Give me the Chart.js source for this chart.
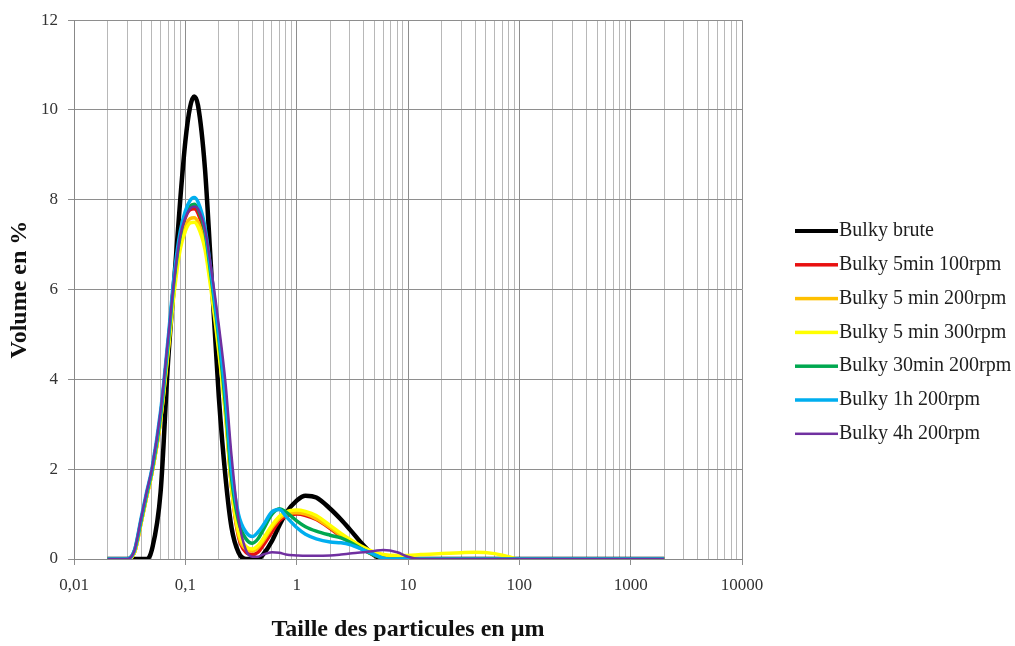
<!DOCTYPE html>
<html>
<head>
<meta charset="utf-8">
<script src="https://cdn.jsdelivr.net/npm/chart.js@4.4.0/dist/chart.umd.min.js"></script>
<style>
html, body { margin: 0; padding: 0; background: #fff; }
#wrap { width: 1015px; height: 646px; }
</style>
</head>
<body>
<div id="wrap"><canvas id="psdChart" width="1015" height="646"></canvas></div>
<script>
// particle sizes (µm)
const sizes = [0.02, 0.025, 0.03, 0.035, 0.04, 0.045, 0.05, 0.06, 0.07, 0.08, 0.09, 0.1, 0.11, 0.12, 0.13, 0.15, 0.17, 0.2, 0.23, 0.26,
    0.3, 0.35, 0.4, 0.45, 0.5, 0.6, 0.7, 0.8, 1, 1.2, 1.5, 2, 2.5, 3, 4, 5, 6, 8, 10, 13,
    20, 30, 40, 60, 80, 100, 200, 500, 1000, 2000];

// volume % per series
const bulkyBrute = [0, 0, 0, 0, 0, 0, 0.2, 1.5, 4.4, 6.3, 8.0, 9.3, 10.05, 10.3, 10.1, 8.7, 6.5, 3.6, 1.8, 0.7,
    0.15, 0, 0, 0, 0.1, 0.4, 0.75, 1.02, 1.3, 1.41, 1.37, 1.12, 0.88, 0.66, 0.3, 0.08, 0, 0, 0, 0,
    0, 0, 0, 0, 0, 0, 0, 0, 0, 0];
const bulky5min100 = [0, 0, 0, 0.15, 0.8, 1.4, 1.9, 3.1, 4.7, 6.2, 7.15, 7.6, 7.78, 7.8, 7.7, 7.2, 6.2, 4.8, 3.3, 1.6,
    0.5, 0.15, 0.1, 0.15, 0.3, 0.6, 0.85, 0.95, 1.0, 0.97, 0.88, 0.68, 0.5, 0.38, 0.2, 0.08, 0.03, 0.01, 0, 0,
    0, 0, 0, 0, 0, 0, 0, 0, 0, 0];
const bulky5min200 = [0, 0, 0, 0.15, 0.8, 1.4, 1.9, 3.1, 4.65, 6.1, 7.0, 7.4, 7.58, 7.6, 7.5, 7.0, 6.1, 4.7, 3.2, 1.6,
    0.55, 0.22, 0.18, 0.25, 0.4, 0.7, 0.9, 1.0, 1.03, 1.0, 0.9, 0.7, 0.52, 0.4, 0.22, 0.1, 0.05, 0.02, 0, 0,
    0, 0, 0, 0, 0, 0, 0, 0, 0, 0];
const bulky5min300 = [0, 0, 0, 0.15, 0.8, 1.4, 1.9, 3.1, 4.6, 6.0, 6.9, 7.3, 7.48, 7.5, 7.4, 6.9, 6.0, 4.6, 3.2, 1.6,
    0.6, 0.28, 0.22, 0.3, 0.45, 0.75, 0.95, 1.05, 1.09, 1.06, 0.97, 0.75, 0.57, 0.44, 0.26, 0.15, 0.1, 0.08, 0.08, 0.1,
    0.12, 0.14, 0.15, 0.12, 0.05, 0, 0, 0, 0, 0];
const bulky30min200 = [0, 0, 0, 0.2, 0.85, 1.45, 1.95, 3.2, 4.8, 6.3, 7.2, 7.65, 7.85, 7.9, 7.8, 7.3, 6.3, 4.9, 3.4, 1.8,
    0.85, 0.45, 0.35, 0.45, 0.65, 1.0, 1.12, 1.05, 0.85, 0.72, 0.62, 0.53, 0.47, 0.38, 0.2, 0.08, 0.02, 0, 0, 0,
    0, 0, 0, 0, 0, 0, 0, 0, 0, 0];
const bulky1h200 = [0, 0, 0, 0.2, 0.9, 1.5, 2.0, 3.3, 4.9, 6.4, 7.3, 7.75, 7.98, 8.05, 7.95, 7.4, 6.4, 5.0, 3.6, 2.0,
    1.0, 0.6, 0.5, 0.6, 0.75, 1.05, 1.1, 0.95, 0.7, 0.55, 0.45, 0.38, 0.36, 0.32, 0.2, 0.1, 0.02, 0, 0, 0,
    0, 0, 0, 0, 0, 0, 0, 0, 0, 0];
const bulky4h200 = [0, 0, 0, 0.2, 0.9, 1.5, 2.0, 3.3, 4.9, 6.3, 7.2, 7.6, 7.8, 7.85, 7.8, 7.35, 6.5, 5.2, 3.9, 2.3,
    0.9, 0.2, 0.05, 0.05, 0.1, 0.15, 0.14, 0.1, 0.08, 0.07, 0.07, 0.08, 0.1, 0.12, 0.15, 0.18, 0.2, 0.15, 0.05, 0,
    0, 0, 0, 0, 0, 0, 0, 0, 0, 0];

const seriesNames = ['Bulky brute', 'Bulky 5min 100rpm', 'Bulky 5 min 200rpm', 'Bulky 5 min 300rpm',
    'Bulky 30min 200rpm', 'Bulky 1h 200rpm', 'Bulky 4h 200rpm'];
const seriesValues = [bulkyBrute, bulky5min100, bulky5min200, bulky5min300, bulky30min200, bulky1h200, bulky4h200];
const seriesColors = ['#000000', '#e81010', '#ffc000', '#ffff00', '#00a850', '#00aeef', '#7030a0'];
const seriesWidths = [4.5, 3.5, 3.5, 3.5, 3.5, 3.5, 2.5];

// x axis decades and labels
const decades = [0.01, 0.1, 1, 10, 100, 1000, 10000];
const decadeLabels = ['0,01', '0,1', '1', '10', '100', '1000', '10000'];
const yTicks = [0, 2, 4, 6, 8, 10, 12];

const serif = '"Liberation Serif", "Times New Roman", serif';

function isDecade(v) {
    const l = Math.log10(v);
    return Math.abs(l - Math.round(l)) < 1e-9;
}

// all gridline positions 1..9 x each decade
const xGridValues = [];
decades.forEach((d, i) => {
    if (i === decades.length - 1) { xGridValues.push(d); return; }
    for (let k = 1; k <= 9; k++) xGridValues.push(Number((k * d).toPrecision(6)));
});

const sideLegend = {
    id: 'sideLegend',
    afterDraw(chart) {
        const ctx = chart.ctx;
        ctx.save();
        ctx.font = '20px ' + serif;
        ctx.textBaseline = 'middle';
        chart.data.datasets.forEach((ds, i) => {
            const y = 231 + i * 33.8;
            const w = Math.min(ds.borderWidth, 4);
            ctx.fillStyle = ds.borderColor;
            ctx.fillRect(795, y - w / 2, 43, w);
            ctx.fillStyle = '#1e1e1e';
            ctx.fillText(ds.label, 839, y);
        });
        ctx.restore();
    }
};

const datasets = seriesNames.map((name, i) => ({
    label: name,
    data: sizes.map((s, j) => ({ x: s, y: seriesValues[i][j] })),
    borderColor: seriesColors[i],
    backgroundColor: seriesColors[i],
    borderWidth: seriesWidths[i],
    pointRadius: 0,
    fill: false,
    cubicInterpolationMode: 'monotone',
    order: seriesNames.length - i
}));

const ctx = document.getElementById('psdChart').getContext('2d');
new Chart(ctx, {
    type: 'line',
    data: { datasets: datasets },
    options: {
        responsive: false,
        animation: false,
        devicePixelRatio: 1,
        layout: { padding: { top: 18, right: 273, left: 0, bottom: 0 } },
        plugins: {
            legend: { display: false },
            tooltip: { enabled: false }
        },
        scales: {
            x: {
                type: 'logarithmic',
                min: 0.01,
                max: 10000,
                afterBuildTicks: axis => { axis.ticks = xGridValues.map(v => ({ value: v })); },
                afterFit: axis => { axis.height = 87; },
                border: { color: '#888', width: 1 },
                grid: {
                    color: c => isDecade(c.tick.value) ? '#8e8e8e' : '#b8b8b8',
                    tickColor: c => isDecade(c.tick.value) ? '#8e8e8e' : 'rgba(0,0,0,0)',
                    tickLength: 6,
                    lineWidth: 1
                },
                ticks: {
                    autoSkip: false,
                    maxRotation: 0,
                    padding: 10,
                    color: '#333',
                    font: { family: serif, size: 17 },
                    callback: v => {
                        const k = decades.findIndex(d => Math.abs(d - v) / d < 1e-6);
                        return k >= 0 ? decadeLabels[k] : '';
                    }
                },
                title: {
                    display: true,
                    text: 'Taille des particules en µm',
                    color: '#111',
                    font: { family: serif, size: 24, weight: 'bold' },
                    padding: { top: 4, bottom: 2 }
                }
            },
            y: {
                min: 0,
                max: 12,
                afterBuildTicks: axis => { axis.ticks = yTicks.map(v => ({ value: v })); },
                afterFit: axis => { axis.width = 74; },
                border: { color: '#888', width: 1 },
                grid: { color: '#8e8e8e', tickColor: '#8e8e8e', tickLength: 6, lineWidth: 1 },
                ticks: {
                    padding: 10,
                    color: '#333',
                    font: { family: serif, size: 17 }
                },
                title: {
                    display: true,
                    text: 'Volume en %',
                    color: '#111',
                    font: { family: serif, size: 24, weight: 'bold' },
                    padding: { top: 5, bottom: 0 }
                }
            }
        }
    },
    plugins: [sideLegend]
});
</script>
</body>
</html>
